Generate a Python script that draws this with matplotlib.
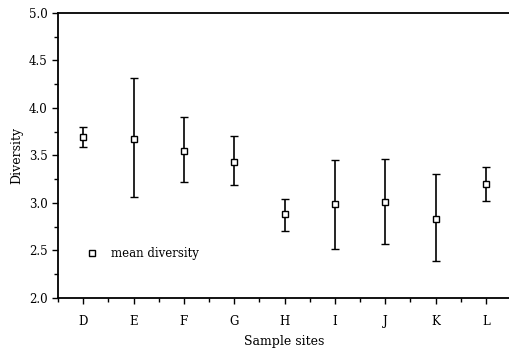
import numpy as np
import matplotlib.pyplot as plt
from matplotlib.ticker import MultipleLocator

# sample sites and diversity values
sites = ["D", "E", "F", "G", "H", "I", "J", "K", "L"]
mean_div = [3.69, 3.67, 3.55, 3.43, 2.88, 2.99, 3.01, 2.83, 3.20]
upper = [3.80, 4.32, 3.90, 3.70, 3.04, 3.45, 3.46, 3.30, 3.38]
lower = [3.59, 3.06, 3.22, 3.19, 2.70, 2.52, 2.57, 2.39, 3.02]

plt.rcParams['font.family'] = ['DejaVu Serif']

fig = plt.figure(figsize=(5.09, 3.51), dpi=100)
ax = fig.add_axes([0.114, 0.151, 0.890, 0.812])

x = np.arange(len(sites))
mean = np.array(mean_div)
yerr = [mean - np.array(lower), np.array(upper) - mean]

ax.errorbar(x, mean, yerr=yerr, fmt='s', color='black', ms=4, mfc='white',
            mec='black', mew=1.0, ecolor='black', elinewidth=1.2, capsize=3,
            capthick=1.2)

# legend drawn as a marker plus a text, like the original
ax.plot([0.18], [2.47], 's', ms=4, mfc='white', mec='black', mew=1.0)
ax.text(0.55, 2.47, "mean diversity", fontsize=8.5, va='center', ha='left')

ax.set_xlim(-0.5, 8.5)
ax.set_ylim(2.0, 5.0)
ax.set_xticks(x)
ax.set_xticklabels(sites)
ax.xaxis.set_minor_locator(MultipleLocator(0.5))
ax.yaxis.set_major_locator(MultipleLocator(0.5))
ax.yaxis.set_minor_locator(MultipleLocator(0.25))
ax.tick_params(axis='both', which='major', direction='out', length=4, width=1,
               labelsize=8.5)
ax.tick_params(axis='both', which='minor', direction='out', length=3, width=1)
ax.tick_params(axis='x', pad=8)
ax.spines['right'].set_visible(False)
for s in ['left', 'bottom', 'top']:
    ax.spines[s].set_linewidth(1.3)

ax.set_xlabel("Sample sites", fontsize=9, labelpad=5)
ax.set_ylabel("Diversity", fontsize=9, labelpad=4)

fig.savefig("out.png", dpi=100)
